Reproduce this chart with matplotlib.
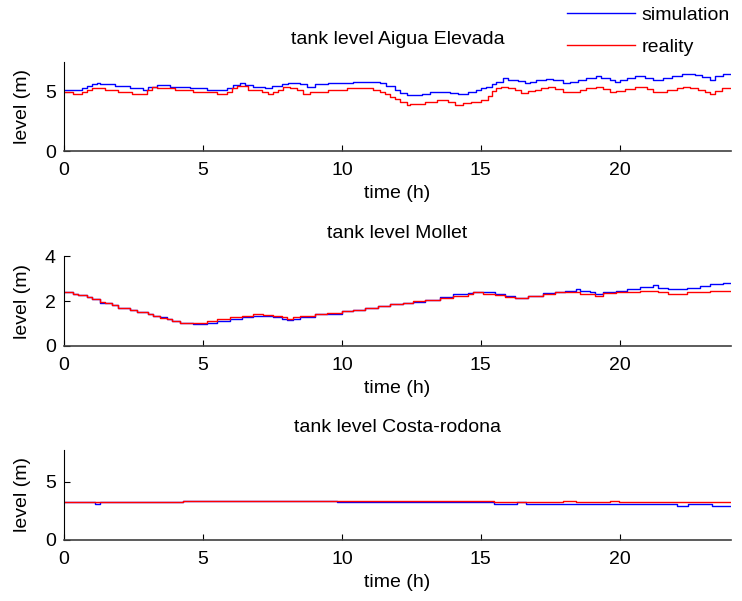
import matplotlib
matplotlib.use("Agg")
import matplotlib.pyplot as plt
from matplotlib.lines import Line2D

plt.rcParams['font.family'] = ['Liberation Sans', 'DejaVu Sans']
plt.rcParams['font.size'] = 14

# ---- data (step start times in hours, levels in m) ----
titles = ["tank level Aigua Elevada", "tank level Mollet", "tank level Costa-rodona"]
series_names = ["simulation", "reality"]
t_end = 24

# Aigua Elevada
t_sim_1 = [0, 0.64, 0.82, 1.0, 1.17, 1.29, 1.83, 2.37, 2.85, 3.03, 3.33, 3.81, 4.53, 5.13, 5.85,
           6.09, 6.33, 6.51, 6.81, 7.23, 7.47, 7.83, 8.07, 8.49, 8.73, 9.03, 9.51, 10.4, 11.37, 11.6,
           11.91, 12.09, 12.33, 12.87, 13.17, 13.53, 13.88, 14.18, 14.54, 14.84, 15.0, 15.2, 15.39,
           15.56, 15.80, 15.98, 16.34, 16.58, 16.76, 17.0, 17.36, 17.60, 17.96, 18.2, 18.5, 18.8,
           19.16, 19.34, 19.64, 19.82, 20.0, 20.24, 20.54, 20.90, 21.2, 21.56, 21.86, 22.22, 22.70,
           22.94, 23.24, 23.42, 23.72]
v_sim_1 = [5.11, 5.28, 5.45, 5.62, 5.73, 5.62, 5.45, 5.28, 5.11, 5.40, 5.56, 5.40, 5.28, 5.11, 5.28,
           5.56, 5.73, 5.56, 5.40, 5.28, 5.45, 5.62, 5.73, 5.62, 5.40, 5.62, 5.73, 5.85, 5.73, 5.45,
           5.11, 4.89, 4.72, 4.83, 4.94, 5.0, 4.89, 4.83, 5.0, 5.11, 5.28, 5.40, 5.68,
           5.85, 6.13, 6.02, 5.90, 5.73, 5.85, 5.96, 6.07, 5.96, 5.73, 5.85, 6.02, 6.19,
           6.30, 6.13, 5.96, 5.85, 6.02, 6.13, 6.30, 6.19, 6.02, 6.19, 6.36, 6.47, 6.41,
           6.24, 6.02, 6.36, 6.47]
t_real_1 = [0, 0.34, 0.64, 0.82, 1.0, 1.47, 1.95, 2.43, 2.97, 3.15, 3.33, 3.99, 4.65, 5.49, 5.85,
            6.03, 6.21, 6.63, 7.11, 7.35, 7.53, 7.71, 7.89, 8.13, 8.37, 8.61, 8.85, 9.51, 10.17, 11.13,
            11.37, 11.55, 11.73, 11.91, 12.09, 12.33, 12.45, 12.99, 13.41, 13.83, 14.06, 14.36, 14.66,
            15.0, 15.27, 15.39, 15.56, 15.74, 15.98, 16.22, 16.46, 16.70, 16.94, 17.18, 17.42, 17.66,
            17.96, 18.56, 18.8, 19.16, 19.40, 19.64, 19.88, 20.18, 20.54, 20.96, 21.2, 21.68, 22.04,
            22.28, 22.52, 22.82, 23.06, 23.24, 23.42, 23.66]
v_real_1 = [4.97, 4.83, 5.0, 5.17, 5.28, 5.11, 5.0, 4.83, 5.11, 5.40, 5.28, 5.11, 5.0, 4.83, 5.0,
            5.28, 5.45, 5.11, 5.0, 4.83, 5.0, 5.11, 5.40, 5.28, 5.11, 4.83, 5.0, 5.11, 5.28, 5.11,
            5.0, 4.77, 4.57, 4.40, 4.10, 3.86, 3.98, 4.15, 4.26, 4.10, 3.86, 4.04, 4.15,
            4.32, 4.60, 5.06, 5.28, 5.40, 5.28, 5.11, 4.89, 5.06, 5.17, 5.28, 5.40, 5.23,
            5.0, 5.11, 5.28, 5.40, 5.23, 4.94, 5.06, 5.23, 5.40, 5.23, 5.0, 5.17, 5.28,
            5.40, 5.28, 5.17, 5.0, 4.83, 5.06, 5.28]

# Mollet
t_sim_2 = [0, 0.34, 0.52, 0.82, 1.0, 1.3, 1.72, 1.96, 2.37, 2.61, 3.03, 3.21, 3.45, 3.69, 3.87,
           4.17, 4.65, 5.13, 5.49, 5.97, 6.39, 6.81, 7.53, 7.83, 8.01, 8.25, 8.49, 9.03, 9.99, 10.41,
           10.83, 11.31, 11.73, 12.21, 12.57, 12.99, 13.53, 14.0, 14.54, 14.72, 15.50, 15.86, 16.22,
           16.70, 17.24, 17.66, 18.02, 18.44, 18.56, 18.92, 19.10, 19.40, 19.88, 20.24, 20.72, 21.2,
           21.38, 21.74, 22.40, 22.88, 23.24, 23.72]
v_sim_2 = [2.40, 2.32, 2.26, 2.20, 2.09, 1.91, 1.83, 1.71, 1.62, 1.51, 1.42, 1.33, 1.28, 1.19, 1.10,
           1.04, 0.98, 1.04, 1.13, 1.19, 1.28, 1.33, 1.28, 1.19, 1.16, 1.19, 1.28, 1.42, 1.57, 1.62,
           1.71, 1.80, 1.86, 1.91, 1.97, 2.06, 2.20, 2.29, 2.35, 2.38, 2.29, 2.23, 2.14,
           2.23, 2.35, 2.38, 2.46, 2.55, 2.43, 2.38, 2.29, 2.38, 2.43, 2.52, 2.61, 2.70,
           2.58, 2.55, 2.58, 2.67, 2.75, 2.81]
t_real_2 = [0, 0.34, 0.52, 0.82, 1.0, 1.3, 1.48, 1.72, 1.96, 2.37, 2.61, 3.03, 3.21, 3.45, 3.69,
            3.87, 4.17, 5.13, 5.49, 5.97, 6.39, 6.81, 7.17, 7.53, 7.83, 8.01, 8.25, 8.49, 9.03, 9.45,
            9.99, 10.41, 10.83, 11.31, 11.73, 12.21, 12.57, 12.99, 13.53, 14.0, 14.54, 14.72, 15.08,
            15.50, 15.86, 16.22, 16.70, 17.24, 17.66, 18.56, 19.10, 19.40, 19.88, 20.72, 21.38, 21.74,
            22.40, 23.24]
v_real_2 = [2.40, 2.32, 2.26, 2.20, 2.09, 1.97, 1.91, 1.83, 1.71, 1.62, 1.51, 1.42, 1.33, 1.25, 1.19,
            1.10, 1.04, 1.10, 1.19, 1.28, 1.33, 1.42, 1.39, 1.33, 1.28, 1.19, 1.28, 1.33, 1.42, 1.48,
            1.57, 1.62, 1.71, 1.80, 1.86, 1.91, 2.0, 2.06, 2.14, 2.23, 2.32, 2.38, 2.32,
            2.26, 2.17, 2.14, 2.23, 2.32, 2.38, 2.29, 2.23, 2.35, 2.38, 2.46, 2.38, 2.29,
            2.38, 2.46]

# Costa-rodona
t_sim_3 = [0, 1.10, 1.29, 4.28, 9.83, 15.46, 16.31, 16.62, 22.06, 22.45, 23.3]
v_sim_3 = [3.25, 3.11, 3.25, 3.34, 3.25, 3.11, 3.25, 3.11, 2.93, 3.11, 2.93]
t_real_3 = [0, 4.28, 15.46, 17.94, 18.41, 19.65, 19.96]
v_real_3 = [3.25, 3.34, 3.25, 3.34, 3.25, 3.34, 3.25]

xticks = [0, 5, 10, 15, 20]
yticks = [[0, 5], [0, 2, 4], [0, 5]]
ylims = [(0, 7.5), (0, 4), (0, 7.75)]

sims = [(t_sim_1, v_sim_1), (t_sim_2, v_sim_2), (t_sim_3, v_sim_3)]
reals = [(t_real_1, v_real_1), (t_real_2, v_real_2), (t_real_3, v_real_3)]

# ---- figure ----
W, H = 742, 601
fig = plt.figure(figsize=(W / 100, H / 100), dpi=100)
left = 64 / W
width = (731 - 64) / W
tops = [62, 256, 450]
bottoms = [151, 346, 540]

for i in range(3):
    ax = fig.add_axes([left, 1 - bottoms[i] / H, width, (bottoms[i] - tops[i]) / H])
    ts, vs = sims[i]
    tr, vr = reals[i]
    ax.step(list(ts) + [t_end], list(vs) + [vs[-1]], where='post', color='#0000ff', lw=1.0)
    ax.step(list(tr) + [t_end], list(vr) + [vr[-1]], where='post', color='#ff0000', lw=1.0)
    ax.set_xlim(0, t_end)
    ax.set_ylim(*ylims[i])
    ax.set_xticks(xticks)
    ax.set_yticks(yticks[i])
    ax.spines['top'].set_visible(False)
    ax.spines['right'].set_visible(False)
    ax.spines['left'].set_color('black')
    ax.spines['bottom'].set_color('#404040')
    ax.spines['bottom'].set_linewidth(1.2)
    ax.tick_params(direction='in', length=4, width=0.8, labelsize=14, pad=8)
    ax.tick_params(axis='y', pad=6)
    ax.set_title(titles[i], fontsize=14, pad=13)
    ax.set_xlabel("time (h)", fontsize=14, labelpad=4)
    ax.set_ylabel("level (m)", fontsize=14)
    ax.yaxis.set_label_coords(-0.05, 0.5)

handles = [Line2D([], [], color='#0000ff', lw=1.0), Line2D([], [], color='#ff0000', lw=1.0)]
fig.legend(handles, series_names, loc='upper left', bbox_to_anchor=(567 / W, 1 - 6 / H),
           frameon=False, borderpad=0, borderaxespad=0, handlelength=3.5,
           handletextpad=0.35, labelspacing=0.76, fontsize=14)

fig.savefig("out.png", dpi=100)
